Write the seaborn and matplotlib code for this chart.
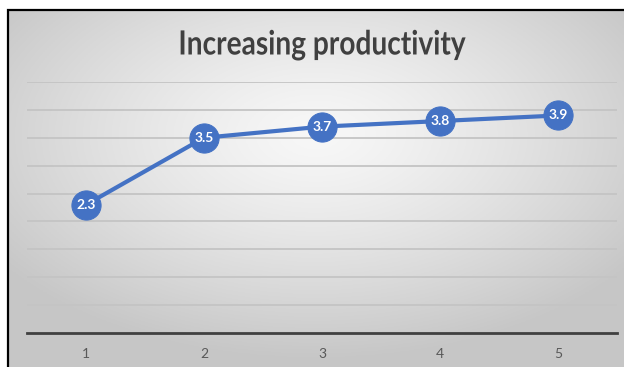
import numpy as np
import pandas as pd
import matplotlib
matplotlib.use("Agg")
import matplotlib.pyplot as plt
import matplotlib.patheffects as pe
from matplotlib.transforms import Affine2D
from matplotlib.patches import Rectangle
import seaborn as sns

# Data
categories = [1, 2, 3, 4, 5]
values = [2.3, 3.5, 3.7, 3.8, 3.9]
title = "Increasing productivity"

df = pd.DataFrame({"x": categories, "y": values})

sns.set_style("white")
plt.rcParams["font.family"] = ["Lato", "DejaVu Sans"]

W, H = 624, 367
fig = plt.figure(figsize=(W / 100, H / 100), dpi=100)
fig.patch.set_facecolor("white")


class HFit(pe.AbstractPathEffect):
    """Draw text path compressed horizontally to a target pixel width (condensed look)."""
    def __init__(self, target_px):
        super().__init__()
        self.target_px = target_px

    def draw_path(self, renderer, gc, tpath, affine, rgbFace=None):
        ext = tpath.transformed(affine).get_extents()
        w = ext.x1 - ext.x0
        sx = self.target_px / w if w > 0 else 1.0
        cx = (ext.x0 + ext.x1) / 2
        t = affine + Affine2D().translate(-cx, 0).scale(sx, 1).translate(cx, 0)
        renderer.draw_path(gc, tpath, t, rgbFace)


# Background radial gradient (chart area starting at x=8, y=10 px)
bx0, by_top = 8, 10
bg = fig.add_axes([bx0 / W, 0, 1 - bx0 / W, (H - by_top) / H])
nx, ny = 300, 180
xx, yy = np.meshgrid(np.linspace(-1, 1, nx), np.linspace(-1, 1, ny))
cx, cy = 0.0, -0.3
r = np.sqrt(((xx - cx) / 1.25) ** 2 + ((yy - cy) / 1.25) ** 2)
r = np.clip(r, 0, 1)
c_in, c_out = 0.97, 0.78
img = c_in + (c_out - c_in) * r ** 1.3
bg.imshow(np.dstack([img, img, img]), aspect="auto", extent=[0, 1, 0, 1], origin="upper")
bg.set_xlim(0, 1)
bg.set_ylim(0, 1)
bg.axis("off")
# black border (left and top visible)
fig.patches.append(Rectangle(((bx0 - 0.5) / W, -0.1), 1.2, (H - by_top + 0.5) / H + 0.1,
                             transform=fig.transFigure, fill=False,
                             edgecolor="black", lw=1.6, zorder=10))

# Main axes
left, right = 27 / W, 617 / W
bottom, top = (H - 333) / H, (H - 82) / H
ax = fig.add_axes([left, bottom, right - left, top - bottom])
ax.patch.set_alpha(0)

sns.lineplot(data=df, x="x", y="y", ax=ax, color="#4472C4", lw=3,
             marker="o", markersize=21, markeredgecolor="#4472C4",
             markerfacecolor="#4472C4", zorder=3)

for xv, yv in zip(categories, values):
    ax.text(xv, yv, f"{yv}", ha="center", va="center", color="white",
            fontsize=10, fontweight="bold", zorder=4)

ax.set_xlim(0.5, 5.5)
ax.set_ylim(0, 4.5)
ax.set_yticks(np.arange(0.5, 4.51, 0.5))
ax.set_xticks(categories)
ax.set_xticklabels([str(c) for c in categories])
ax.yaxis.grid(True, color="#c4c4c4", lw=1.3)
ax.set_axisbelow(True)
ax.tick_params(axis="y", left=False, labelleft=False)
ax.tick_params(axis="x", bottom=False, labelsize=10, labelcolor="#595959", pad=7)
for s in ["top", "right", "left"]:
    ax.spines[s].set_visible(False)
ax.spines["bottom"].set_color("#404040")
ax.spines["bottom"].set_linewidth(2)
ax.set_xlabel("")
ax.set_ylabel("")

fig.text(322 / W, 1 - 45 / H, title, ha="center", va="center",
         fontsize=24, fontweight="bold", color="#404040",
         path_effects=[HFit(285)])

fig.savefig("out.png", dpi=100)
